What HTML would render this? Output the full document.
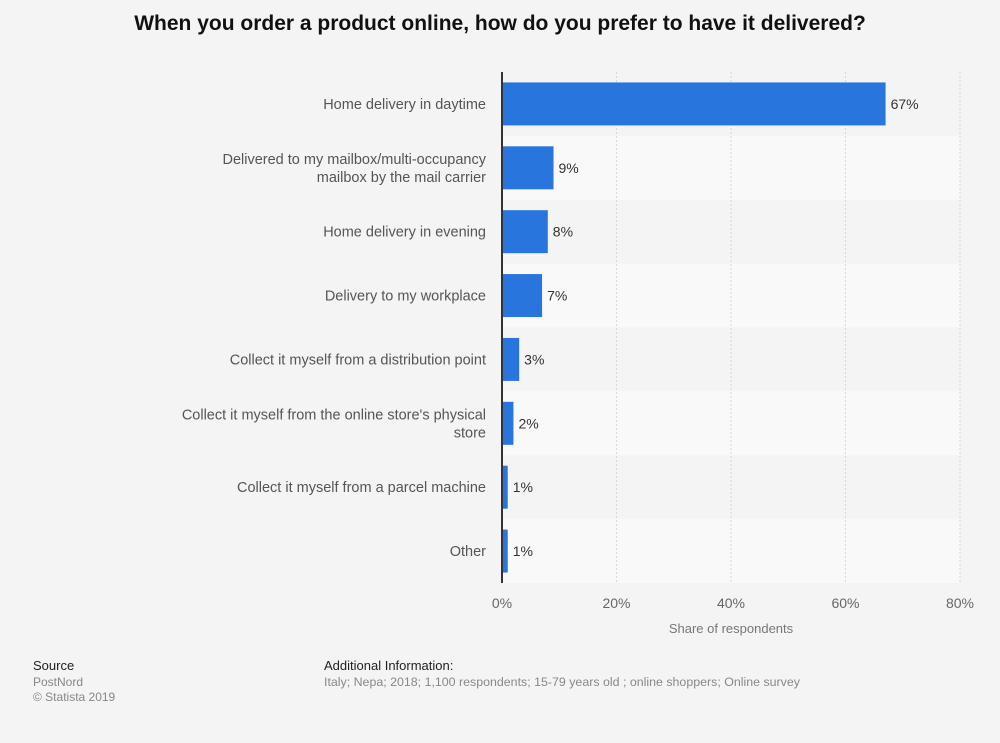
<!DOCTYPE html>
<html><head><meta charset="utf-8"><style>
body{margin:0;background:#f4f4f4;font-family:"Liberation Sans",sans-serif;overflow:hidden;}
svg{display:block;}
svg text{font-family:"Liberation Sans",sans-serif;}
</style></head><body>
<svg width="1000" height="743">
<rect width="1000" height="743" fill="#f4f4f4"/>
<text x="500" y="30" text-anchor="middle" font-size="21" font-weight="bold" fill="#111">When you order a product online, how do you prefer to have it delivered?</text>
<g id="plot"></g>
<text x="731" y="633" text-anchor="middle" font-size="13" fill="#777">Share of respondents</text>
<text x="33" y="670" font-size="13" fill="#222">Source</text>
<text x="33" y="686" font-size="12" fill="#888">PostNord</text>
<text x="33" y="701" font-size="12" fill="#888">© Statista 2019</text>
<text x="324" y="670" font-size="13" fill="#222">Additional Information:</text>
<text x="324" y="686" font-size="12.4" fill="#888">Italy; Nepa; 2018; 1,100 respondents; 15-79 years old ; online shoppers; Online survey</text>
</svg>
<script>
const categories=[["Home delivery in daytime"],["Delivered to my mailbox/multi-occupancy","mailbox by the mail carrier"],["Home delivery in evening"],["Delivery to my workplace"],["Collect it myself from a distribution point"],["Collect it myself from the online store's physical","store"],["Collect it myself from a parcel machine"],["Other"]];
const values=[67,9,8,7,3,2,1,1];
const ticks=[0,20,40,60,80];
const NS="http://www.w3.org/2000/svg";
const g=document.getElementById('plot');
const x0=502,x1=960,yTop=72,yBottom=583;
const rowH=(yBottom-yTop)/categories.length;
const xs=v=>x0+(x1-x0)*v/80;
function mk(t,a,p){const e=document.createElementNS(NS,t);for(const k in a)e.setAttribute(k,a[k]);(p||g).appendChild(e);return e;}
categories.forEach((c,i)=>{if(i%2==1){const b=mk('rect',{x:x0,y:yTop+i*rowH,width:x1-x0,height:rowH,fill:'#f9f9f9'});

}});
ticks.forEach(t=>{if(t>0){const l=mk('line',{x1:xs(t),x2:xs(t),y1:yTop,y2:yBottom,stroke:'#d8d8d8','stroke-dasharray':'2,2'});

}
const tx=mk('text',{x:xs(t),y:608,'text-anchor':'middle','font-size':14,fill:'#666'});tx.textContent=t+'%';

});
categories.forEach((c,i)=>{const cy=yTop+i*rowH+rowH/2;
const b=mk('rect',{x:x0,y:cy-21.5,width:xs(values[i])-x0,height:43,fill:'#2876dd'});


const v=mk('text',{x:xs(values[i])+5,y:cy+5,'font-size':14,fill:'#333'});v.textContent=values[i]+'%';


c.forEach((line,j)=>{const t=mk('text',{x:486,y:cy+5+(j-(c.length-1)/2)*18,'text-anchor':'end','font-size':14.5,fill:'#555'});t.textContent=line;

});});
const ax=mk('line',{x1:x0,x2:x0,y1:yTop,y2:yBottom,stroke:'#333','stroke-width':2});


</script>
</body></html>
